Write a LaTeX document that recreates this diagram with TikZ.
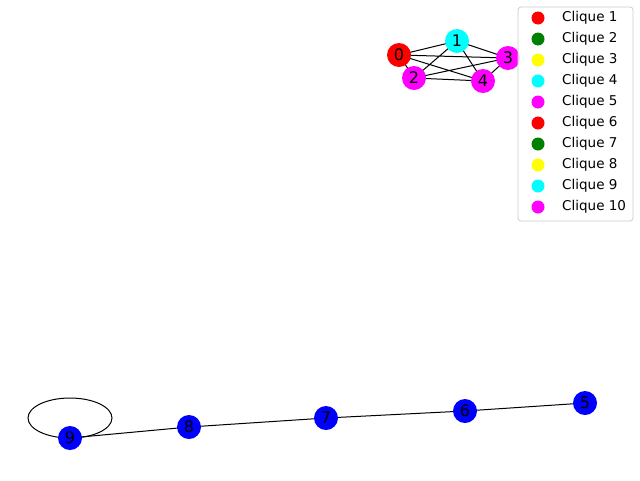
\documentclass[tikz,border=0pt]{standalone}
\usepackage{fontspec}
\setmainfont{DejaVu Sans}
\definecolor{cCyan}{RGB}{0,255,255}
\definecolor{cMag}{RGB}{255,0,255}
\definecolor{cRed}{RGB}{255,0,0}
\definecolor{cGreen}{RGB}{0,128,0}
\definecolor{cYellow}{RGB}{255,255,0}
\definecolor{cBlue}{RGB}{0,0,255}
\begin{document}
\begin{tikzpicture}[x=1pt,y=-1pt,
  vtx/.style={circle,inner sep=0pt,minimum size=24pt,font=\fontsize{16}{16}\selectfont},
  edge/.style={black,line width=1pt},
  mk/.style={circle,inner sep=0pt,minimum size=13pt},
  lab/.style={anchor=west,inner sep=0pt,font=\fontsize{13.5}{13.5}\selectfont}]
\useasboundingbox (0,0) rectangle (640,480);
% top clique nodes positions
\coordinate (p0) at (399,55);
\coordinate (p1) at (457,41);
\coordinate (p2) at (414,78);
\coordinate (p3) at (508,58);
\coordinate (p4) at (483,81);
\draw[edge] (p0)--(p1) (p0)--(p2) (p0)--(p3) (p0)--(p4) (p1)--(p2) (p1)--(p3) (p1)--(p4) (p2)--(p3) (p2)--(p4) (p3)--(p4);
\node[vtx,fill=cRed] (n0) at (p0) {0};
\node[vtx,fill=cCyan] (n1) at (p1) {1};
\node[vtx,fill=cMag] (n2) at (p2) {2};
\node[vtx,fill=cMag] (n3) at (p3) {3};
\node[vtx,fill=cMag] (n4) at (p4) {4};
% bottom path
\coordinate (q9) at (70,438);
\coordinate (q8) at (189,427);
\coordinate (q7) at (326,418);
\coordinate (q6) at (465,411);
\coordinate (q5) at (585,403);
\draw[edge] (q9)--(q8)--(q7)--(q6)--(q5);
\draw[edge] (70,418) ellipse [x radius=42, y radius=20];
\node[vtx,fill=cBlue] (n9) at (q9) {9};
\node[vtx,fill=cBlue] (n8) at (q8) {8};
\node[vtx,fill=cBlue] (n7) at (q7) {7};
\node[vtx,fill=cBlue] (n6) at (q6) {6};
\node[vtx,fill=cBlue] (n5) at (q5) {5};
% legend
\draw[rounded corners=3pt,fill=white,fill opacity=0.8,draw=black!20,line width=0.8pt] (518,7) rectangle (633,221);
\foreach \i/\c in {1/cRed,2/cGreen,3/cYellow,4/cCyan,5/cMag,6/cRed,7/cGreen,8/cYellow,9/cCyan,10/cMag}{
  \node[mk,fill=\c] (m\i) at (538,{18+21*(\i-1)}) {};
  \node[lab] (l\i) at (562,{18+21*(\i-1)}) {Clique \i};
}
\end{tikzpicture}
\end{document}
